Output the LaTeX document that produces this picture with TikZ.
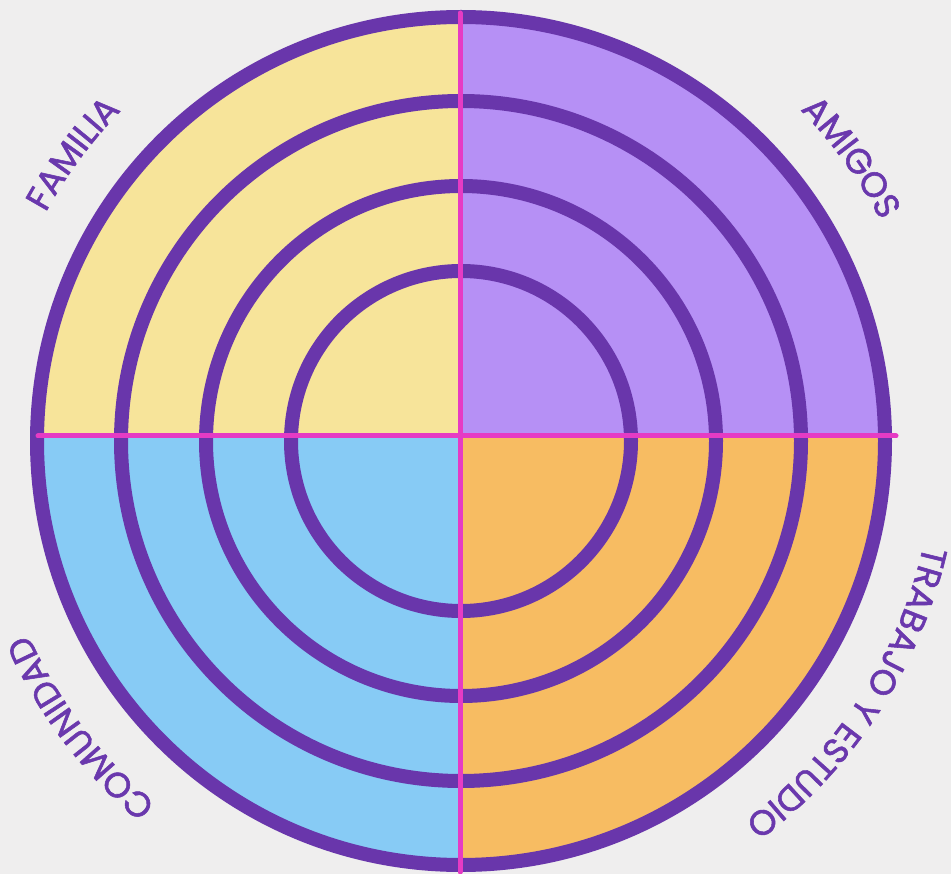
\documentclass[tikz,border=0pt]{standalone}
\usepackage{fontspec}
\newfontfamily\labfam{Poppins}[FakeBold=1.6]
\usetikzlibrary{decorations.text}
\definecolor{bg}{HTML}{EFEEEE}
\definecolor{cyel}{HTML}{F7E49A}
\definecolor{cpur}{HTML}{B690F5}
\definecolor{cblu}{HTML}{87CBF5}
\definecolor{cora}{HTML}{F7BC62}
\definecolor{ringc}{HTML}{6936AB}
\definecolor{pinkc}{HTML}{E63BC4}
\definecolor{txtc}{HTML}{6A38AD}
\newcommand\labfont{\labfam\fontsize{35}{40}\selectfont\color{txtc}}
\tikzset{
  ring/.style={draw=ringc, line width=14pt},
  pinkline/.style={draw=pinkc, line width=5pt, line cap=round},
  curvelabel/.style={decorate, decoration={text along path, text align=center, text={|\labfont|#1}}}
}
\begin{document}
\begin{tikzpicture}[x=1pt,y=1pt]
\fill[bg] (0,0) rectangle (951,-874);
\useasboundingbox (0,0) rectangle (951,-874);
\coordinate (O) at (461,-441);
\begin{scope}
  \clip (O) circle[radius=424];
  \fill[cyel] (0,0) rectangle (460,-436);
  \fill[cpur] (460,0) rectangle (951,-436);
  \fill[cblu] (0,-436) rectangle (460,-874);
  \fill[cora] (460,-436) rectangle (951,-874);
\end{scope}
\foreach \r in {424,340,255,170} \draw[ring] (O) circle[radius=\r];
\coordinate (hL) at (38,-436);
\coordinate (hR) at (896,-436);
\coordinate (vT) at (460,-13);
\coordinate (vB) at (460,-872);
\draw[pinkline] (hL) -- (hR);
\draw[pinkline] (vT) -- (vB);
\path[curvelabel=FAMILIA] (O) ++(183.5:474) arc[start angle=183.5, end angle=103.5, radius=474];
\path[curvelabel=AMIGOS] (O) ++(76:474) arc[start angle=76, end angle=-4, radius=474];
\path[curvelabel={TRABAJO Y ESTUDIO}] (O) ++(12:474) arc[start angle=12, end angle=-78, radius=474];
\path[curvelabel=COMUNIDAD] (O) ++(257:474) arc[start angle=257, end angle=177, radius=474];
\end{tikzpicture}
\end{document}
